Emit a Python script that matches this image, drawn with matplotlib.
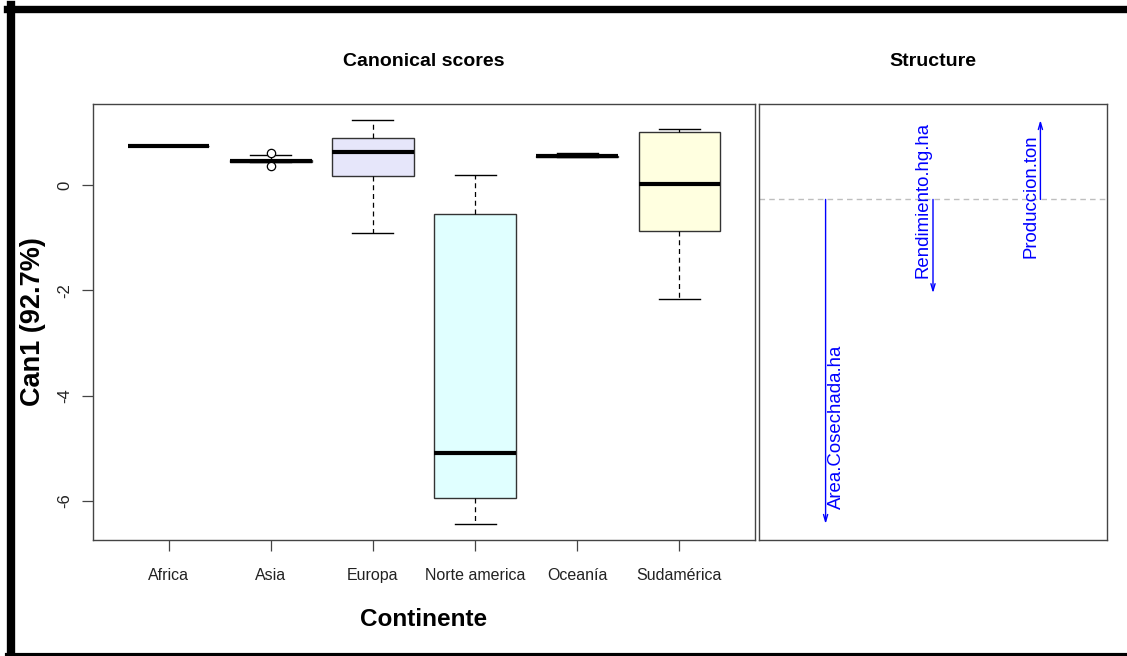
import numpy as np
import matplotlib
matplotlib.use("Agg")
import matplotlib.pyplot as plt
from matplotlib.lines import Line2D

plt.rcParams['font.family'] = ['Liberation Sans', 'DejaVu Sans']

# canonical scores per continent (box summary)
continents = ['Africa', 'Asia', 'Europa', 'Norte america', 'Oceanía', 'Sudamérica']
q1 = [0.755, 0.45, 0.17, -5.94, 0.53, -0.86]
med = [0.755, 0.47, 0.63, -5.10, 0.55, 0.02]
q3 = [0.755, 0.49, 0.90, -0.55, 0.56, 1.01]
whislo = [0.755, 0.45, -0.90, -6.44, 0.53, -2.16]
whishi = [0.755, 0.57, 1.24, 0.19, 0.61, 1.07]
fliers = [[], [0.62, 0.37], [], [], [], []]
box_colors = ['#FFC0CB', '#C1FFC1', '#E6E6FA', '#E0FFFF', '#FFE4B5', '#FFFFE0']

# structure coefficients
variables = ['Area.Cosechada.ha', 'Rendimiento.hg.ha', 'Produccion.ton']
structure = [-0.97, -0.28, 0.237]

fig = plt.figure(figsize=(11.27, 6.56), dpi=100)
ax = fig.add_axes([93 / 1127, 1 - 540 / 656, 662 / 1127, 436 / 656])
ax2 = fig.add_axes([759 / 1127, 1 - 540 / 656, 348 / 1127, 436 / 656])

stats = []
for i in range(len(continents)):
    stats.append(dict(q1=q1[i], med=med[i], q3=q3[i], whislo=whislo[i],
                      whishi=whishi[i], fliers=fliers[i], label=continents[i]))

pos = np.arange(1, len(continents) + 1)
bp = ax.bxp(stats, positions=pos, widths=0.8, patch_artist=True,
            boxprops=dict(edgecolor='#333333', linewidth=1),
            medianprops=dict(color='black', linewidth=3, solid_capstyle='butt'),
            whiskerprops=dict(color='black', linewidth=0.9, linestyle=(0, (4, 3))),
            capprops=dict(color='black', linewidth=1),
            flierprops=dict(marker='o', markerfacecolor='white',
                            markeredgecolor='black', markersize=6, markeredgewidth=0.9),
            capwidths=0.4)
for patch, c in zip(bp['boxes'], box_colors):
    patch.set_facecolor(c)

lo = min(min(whislo), min(min(f) for f in fliers if f))
hi = max(max(whishi), max(max(f) for f in fliers if f))
rng = hi - lo
ax.set_ylim(lo - 0.04 * rng, hi + 0.04 * rng)
ax.set_xlim(0.5 - 0.24, len(continents) + 0.5 + 0.24)
ax.set_yticks([0, -2, -4, -6])
ax.set_yticklabels(['0', '-2', '-4', '-6'], rotation=90, va='center')
ax.set_xticks(pos)
ax.set_xticklabels(continents)
ax.tick_params(axis='both', length=8, width=0.9, color='#444444',
               labelcolor='#222222')
ax.tick_params(axis='x', labelsize=11.5, pad=12)
ax.tick_params(axis='y', labelsize=12, pad=7)
for s in ax.spines.values():
    s.set_color('#444444')
    s.set_linewidth(1)
ax.set_title('Canonical scores', fontsize=14, fontweight='bold', pad=27)
ax.set_ylabel('Can1 (92.7%)', fontsize=19.5, fontweight='bold', labelpad=8)
ax.set_xlabel('Continente', fontsize=17.5, fontweight='bold', labelpad=18)

# structure panel
xs = np.arange(1, len(variables) + 1)
ax2.axhline(0, color='#BEBEBE', linestyle=(0, (4, 3)), linewidth=1)
for x, v, name in zip(xs, structure, variables):
    ax2.annotate('', xy=(x, v), xytext=(x, 0),
                 arrowprops=dict(arrowstyle='->,head_length=0.5,head_width=0.15',
                                 color='blue', lw=1, shrinkA=0, shrinkB=0))
    if v < 0:
        off = (8, 11) if x == 1 else (-7, 11)
        ax2.annotate(name, xy=(x, v), xytext=off, textcoords='offset points',
                     rotation=90, ha='center', va='bottom', color='blue', fontsize=13.4)
    else:
        ax2.annotate(name, xy=(x, v), xytext=(-7, -10), textcoords='offset points',
                     rotation=90, ha='center', va='top', color='blue', fontsize=13.4)
srng = max(structure) - min(structure)
ax2.set_ylim(min(structure) - 0.04 * srng, max(structure) + 0.04 * srng)
ax2.set_xlim(0.5 - 0.12, len(variables) + 0.5 + 0.12)
ax2.set_xticks([])
ax2.set_yticks([])
for s in ax2.spines.values():
    s.set_color('#444444')
    s.set_linewidth(1)
ax2.set_title('Structure', fontsize=14, fontweight='bold', pad=27)

# black frame around the screenshot
W, H = 1127, 656
fig.add_artist(Line2D([11 / W, 11 / W], [0, 1 - 5 / H], transform=fig.transFigure,
                      color='black', linewidth=6))
fig.add_artist(Line2D([7 / W, 1], [1 - 8.5 / H, 1 - 8.5 / H], transform=fig.transFigure,
                      color='black', linewidth=5.3))
fig.add_artist(Line2D([7 / W, 1], [1.5 / H, 1.5 / H], transform=fig.transFigure,
                      color='black', linewidth=3))

fig.savefig('out.png', dpi=100)
